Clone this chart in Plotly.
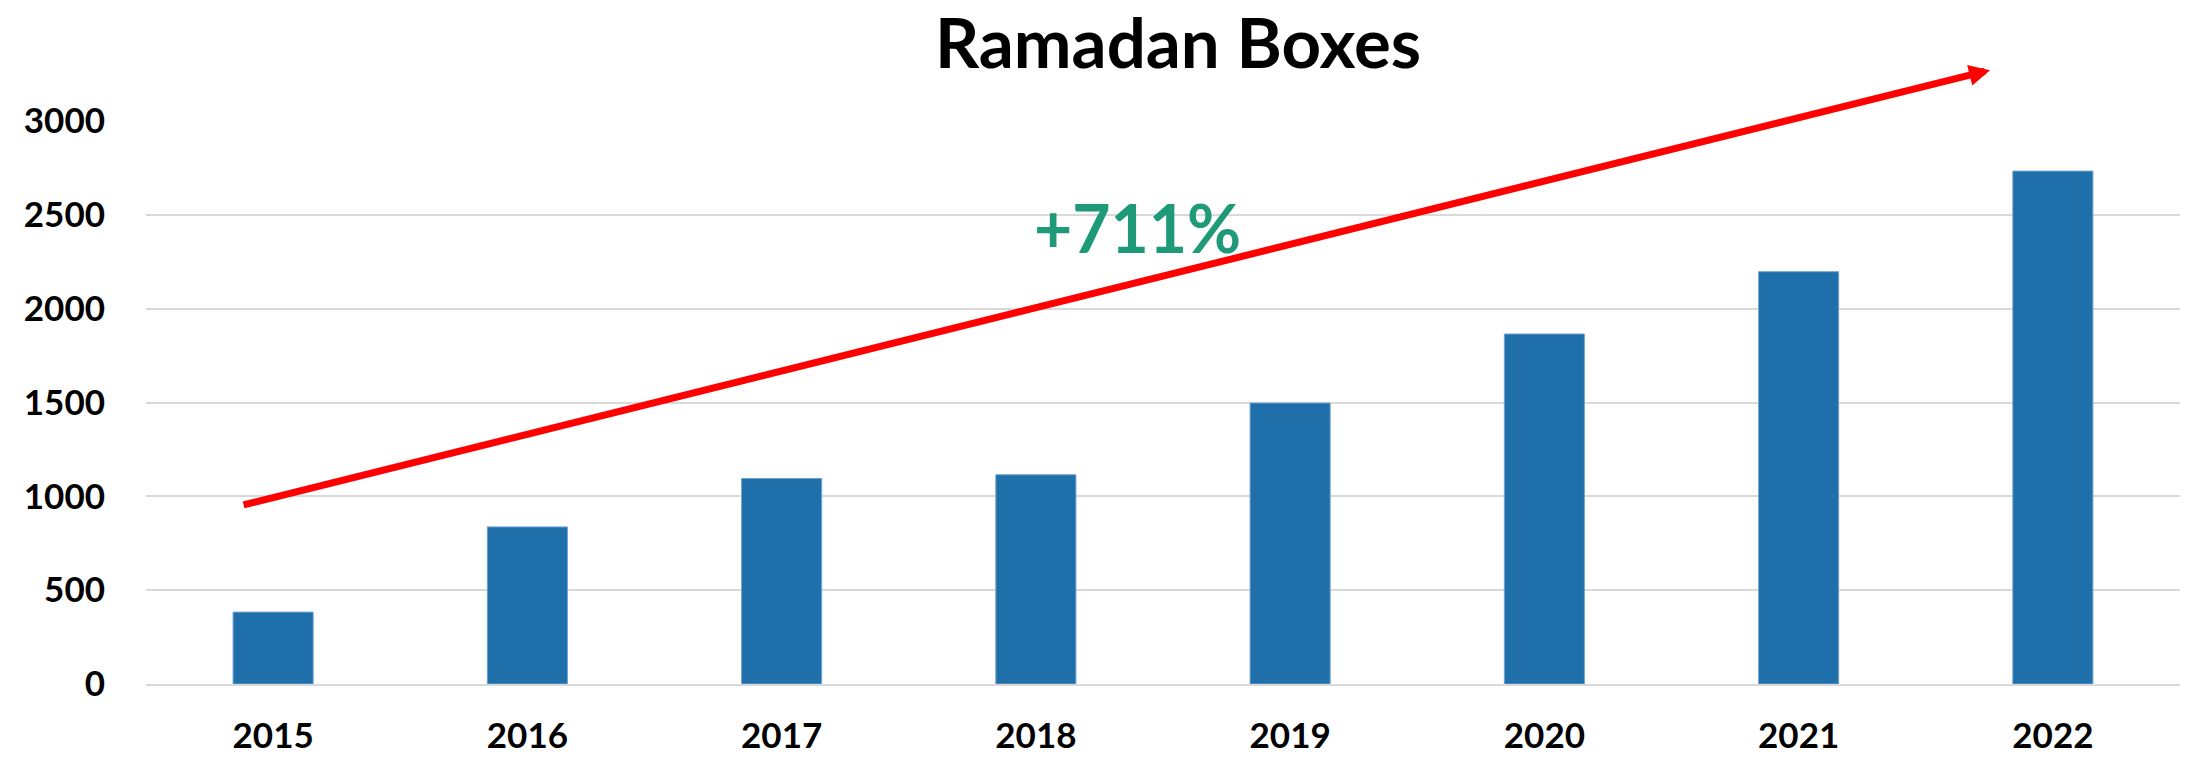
import plotly.graph_objects as go

years = ["2015", "2016", "2017", "2018", "2019", "2020", "2021", "2022"]
boxes = [383, 837, 1095, 1115, 1497, 1865, 2197, 2733]
y_ticks = [0, 500, 1000, 1500, 2000, 2500, 3000]
title_text = "Ramadan Boxes"
growth_label = "+711%"

FONT = "Lato"
BAR_COLOR = "#1f6faa"
GRID = "#d9d9d9"

W, H = 2193, 758
ml, mr, mt, mb = 146, 13, 121, 74
plot_w = W - ml - mr
plot_h = H - mt - mb

fig = go.Figure()
fig.add_trace(go.Bar(
    x=years, y=boxes,
    marker=dict(color=BAR_COLOR, line=dict(color="#6fa3cf", width=1)),
    hoverinfo="x+y",
))

# title
fig.add_annotation(
    text="<b>" + title_text + "</b>", xref="paper", yref="paper",
    x=(1178 - ml) / plot_w, y=1 + (mt - 42) / plot_h,
    showarrow=False, font=dict(family=FONT, size=69, color="black"),
    xanchor="center", yanchor="middle",
)

# growth arrow
fig.add_annotation(
    x=6.753, y=3271, xref="x", yref="y",
    ax=-0.122, ay=952, axref="x", ayref="y",
    text="", showarrow=True, arrowhead=2, arrowsize=0.6,
    arrowwidth=7, arrowcolor="#ff0000", standoff=0, startstandoff=0,
)

# growth label
fig.add_annotation(
    text="<b>" + growth_label + "</b>", xref="x", yref="y",
    x=3.4, y=2435, showarrow=False,
    font=dict(family=FONT, size=66, color="#1f9a78"),
    xanchor="center", yanchor="middle",
)

fig.update_layout(
    width=W, height=H,
    margin=dict(l=ml, r=mr, t=mt, b=mb, pad=0, autoexpand=False),
    paper_bgcolor="white", plot_bgcolor="white",
    bargap=0.685, showlegend=False,
    font=dict(family=FONT, color="black"),
)
fig.update_yaxes(
    range=[0, 3000], tickvals=y_ticks, showgrid=True, gridcolor=GRID, gridwidth=1.5,
    zeroline=False, showline=False, automargin=False,
    tickfont=dict(family=FONT, size=35, color="black", weight="bold"), ticklabelstandoff=40,
)
fig.update_xaxes(
    showline=True, linecolor=GRID, linewidth=1.5, showgrid=False, automargin=False,
    tickfont=dict(family=FONT, size=35, color="black", weight="bold"), ticklabelstandoff=20,
)

fig.write_html("out.html", config={"responsive": False})
